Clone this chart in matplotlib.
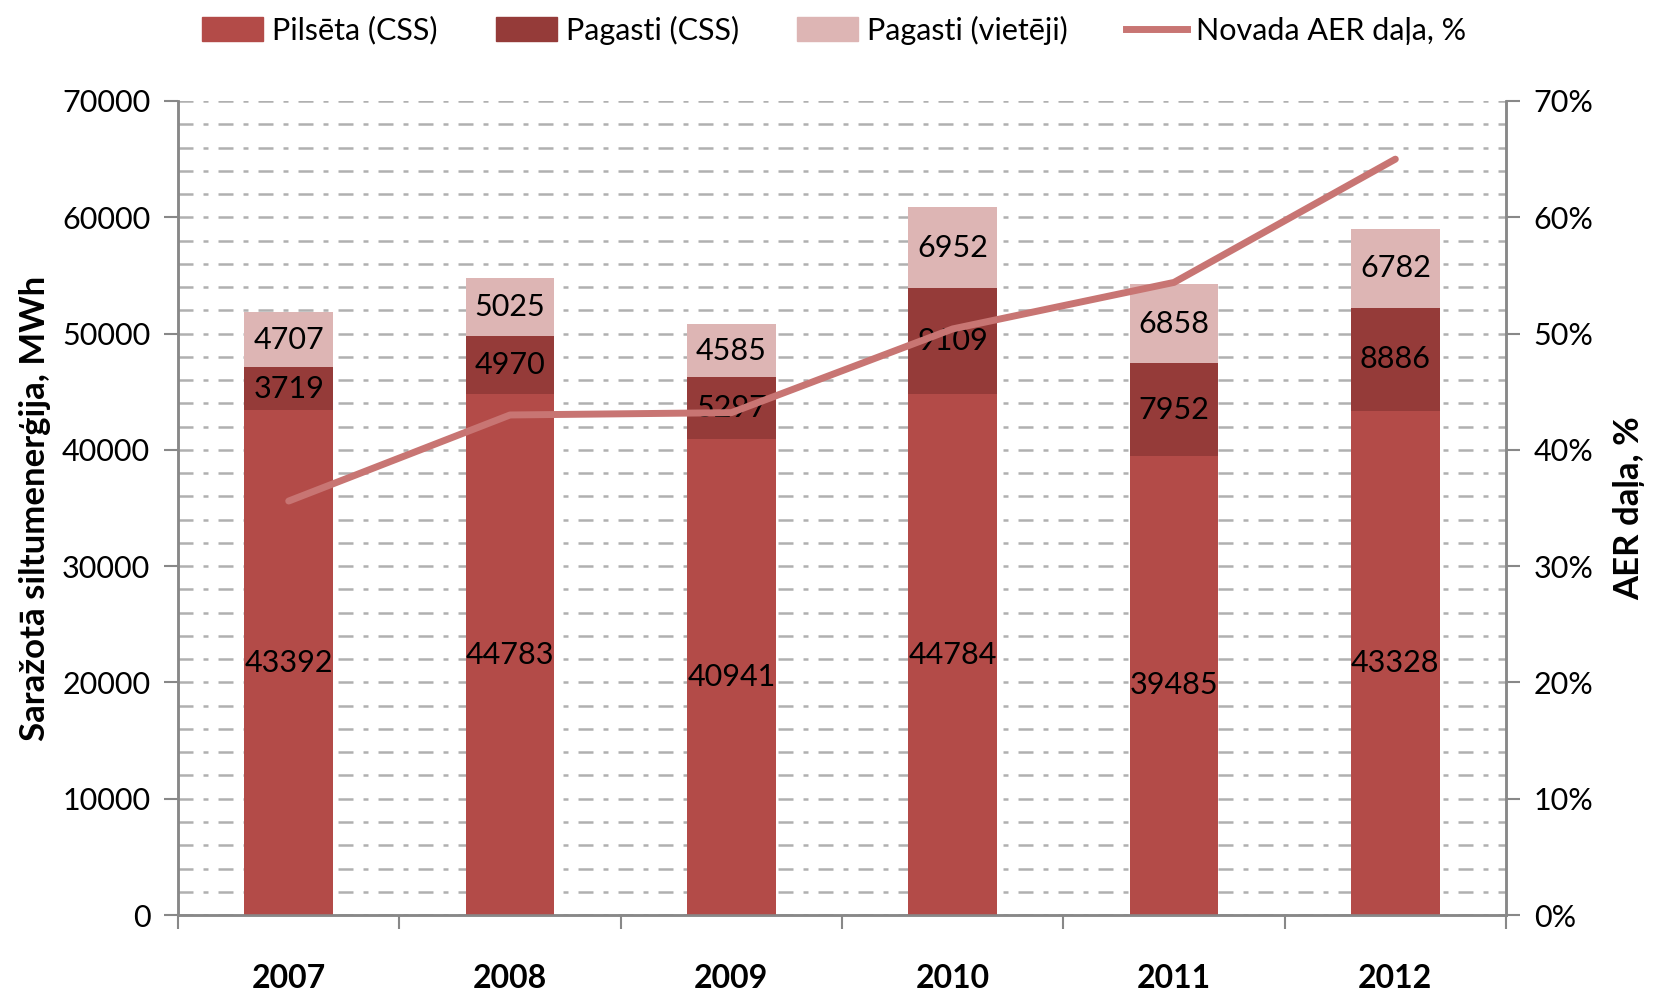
import numpy as np
import matplotlib.pyplot as plt
from matplotlib.patches import Patch
from matplotlib.lines import Line2D

plt.rcParams['font.family'] = ['Lato', 'DejaVu Sans']

years = ['2007', '2008', '2009', '2010', '2011', '2012']
pilseta = [43392, 44783, 40941, 44784, 39485, 43328]
pagasti_css = [3719, 4970, 5297, 9109, 7952, 8886]
pagasti_vietejie = [4707, 5025, 4585, 6952, 6858, 6782]
aer_dala = [35.6, 43.0, 43.2, 50.4, 54.4, 65.0]

c_pils = '#B34B48'
c_pag = '#953B39'
c_viet = '#DDB5B4'
c_line = '#C87573'

fig = plt.figure(figsize=(16.75, 9.96), dpi=100)
ax = fig.add_axes([0.1063, 0.0813, 0.7928, 0.8173])
ax2 = ax.twinx()

x = np.arange(len(years))
w = 0.4
bottom2 = np.array(pilseta)
bottom3 = bottom2 + np.array(pagasti_css)
ax.bar(x, pilseta, w, color=c_pils, zorder=3)
ax.bar(x, pagasti_css, w, bottom=bottom2, color=c_pag, zorder=3)
ax.bar(x, pagasti_vietejie, w, bottom=bottom3, color=c_viet, zorder=3)

fs = 22
for i in range(len(years)):
    ax.text(x[i], pilseta[i] / 2, str(pilseta[i]), ha='center', va='center', fontsize=fs, zorder=4)
    ax.text(x[i], bottom2[i] + pagasti_css[i] / 2, str(pagasti_css[i]), ha='center', va='center', fontsize=fs, zorder=4)
    ax.text(x[i], bottom3[i] + pagasti_vietejie[i] / 2, str(pagasti_vietejie[i]), ha='center', va='center', fontsize=fs, zorder=4)

ax2.plot(x, aer_dala, color=c_line, lw=5, solid_capstyle='round', zorder=5)
ax2.set_zorder(ax.get_zorder() + 1)
ax2.patch.set_visible(False)

ax.set_xlim(-0.5, len(years) - 0.5)
ax.set_ylim(0, 70000)
ax2.set_ylim(0, 70)
ax.set_yticks(np.arange(0, 70001, 10000))
ax.set_yticks(np.arange(0, 70001, 2000), minor=True)
ax.set_yticklabels([str(v) for v in range(0, 70001, 10000)], fontsize=22)
ax2.set_yticks(np.arange(0, 71, 10))
ax2.set_yticklabels([f'{v}%' for v in range(0, 71, 10)], fontsize=22)

ax.grid(axis='y', which='both', color='#B0B0B0', linestyle=(0, (6, 4, 2, 4)), lw=1.8, zorder=0)

ax.set_xticks(x)
ax.set_xticklabels(years, fontsize=23, fontweight='bold')
ax.tick_params(axis='x', length=0, pad=35)
ax.set_xticks(np.arange(-0.5, len(years), 1), minor=True)
ax.tick_params(axis='x', which='minor', length=10, width=1.5, color='#888888', direction='out')
ax.tick_params(axis='y', which='major', length=10, width=1.5, color='#888888', pad=10)
ax.tick_params(axis='y', which='minor', length=0)
ax2.tick_params(axis='y', length=10, width=1.5, color='#888888', pad=10)

for a in (ax, ax2):
    for s in a.spines.values():
        s.set_color('#888888')
        s.set_linewidth(1.8)
    a.spines['top'].set_visible(False)

ax.set_ylabel('Saražotā siltumenerģija, MWh', fontsize=25, fontweight='bold', labelpad=8)
ax2.set_ylabel('AER daļa, %', fontsize=25, fontweight='bold', labelpad=14)

handles = [
    Patch(color=c_pils, label='Pilsēta (CSS)'),
    Patch(color=c_pag, label='Pagasti (CSS)'),
    Patch(color=c_viet, label='Pagasti (vietēji)'),
    Line2D([0], [0], color=c_line, lw=5, label='Novada AER daļa, %'),
]
fig.legend(handles=handles, loc='upper center', bbox_to_anchor=(0.498, 1.012), ncol=4, frameon=False,
           fontsize=22, handlelength=2.0, handleheight=0.8, columnspacing=1.9, handletextpad=0.3)

fig.savefig('out.png', dpi=100)
